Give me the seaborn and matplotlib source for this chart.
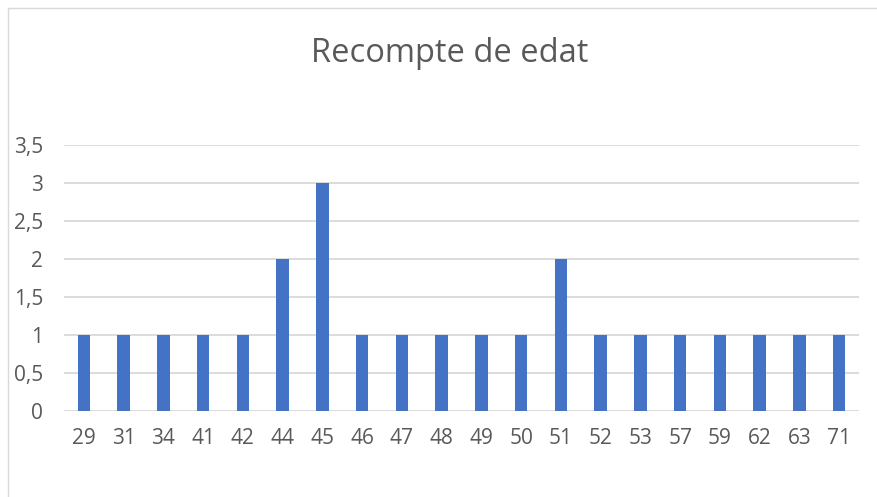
import matplotlib
matplotlib.use("Agg")
import matplotlib.pyplot as plt
import seaborn as sns
import pandas as pd
from matplotlib.lines import Line2D

ages = ["29", "31", "34", "41", "42", "44", "45", "46", "47", "48",
        "49", "50", "51", "52", "53", "57", "59", "62", "63", "71"]
counts = [1, 1, 1, 1, 1, 2, 3, 1, 1, 1, 1, 1, 2, 1, 1, 1, 1, 1, 1, 1]
yticks = [0, 0.5, 1, 1.5, 2, 2.5, 3, 3.5]
ytick_labels = ["0", "0,5", "1", "1,5", "2", "2,5", "3", "3,5"]
title = "Recompte de edat"

sns.set_style("white")
plt.rcParams["font.family"] = ["Open Sans", "DejaVu Sans"]

df = pd.DataFrame({"edat": ages, "recompte": counts})

fig = plt.figure(figsize=(8.78, 4.97), dpi=100)
ax = fig.add_axes([64/878, 1-411/497, (859-64)/878, (411-145)/497])
sns.barplot(data=df, x="edat", y="recompte", color="#4472C4", width=0.31,
            saturation=1, ax=ax, zorder=3, linewidth=0)
ax.set_ylim(0, 3.5)
ax.set_yticks(yticks)
ax.set_yticklabels(ytick_labels)
ax.set_xlim(-0.5, len(ages) - 0.5)
ax.set_xlabel("")
ax.set_ylabel("")
for s in ax.spines.values():
    s.set_visible(False)
ax.yaxis.grid(True, color="#D9D9D9", linewidth=1.3, zorder=0)
ax.set_axisbelow(True)
ax.tick_params(axis="both", length=0, labelsize=15, colors="#595959")
ax.tick_params(axis="x", pad=12)
ax.tick_params(axis="y", pad=15)

fig.text(450/878, 1-53/497, title, ha="center", va="center",
         fontsize=23.5, color="#595959")

# chart area border (top and left visible)
fig.add_artist(Line2D([8/878, 1], [1-8/497, 1-8/497], transform=fig.transFigure,
                      color="#D9D9D9", linewidth=1))
fig.add_artist(Line2D([8/878, 8/878], [0, 1-8/497], transform=fig.transFigure,
                      color="#D9D9D9", linewidth=1))

fig.savefig("out.png", dpi=100)
